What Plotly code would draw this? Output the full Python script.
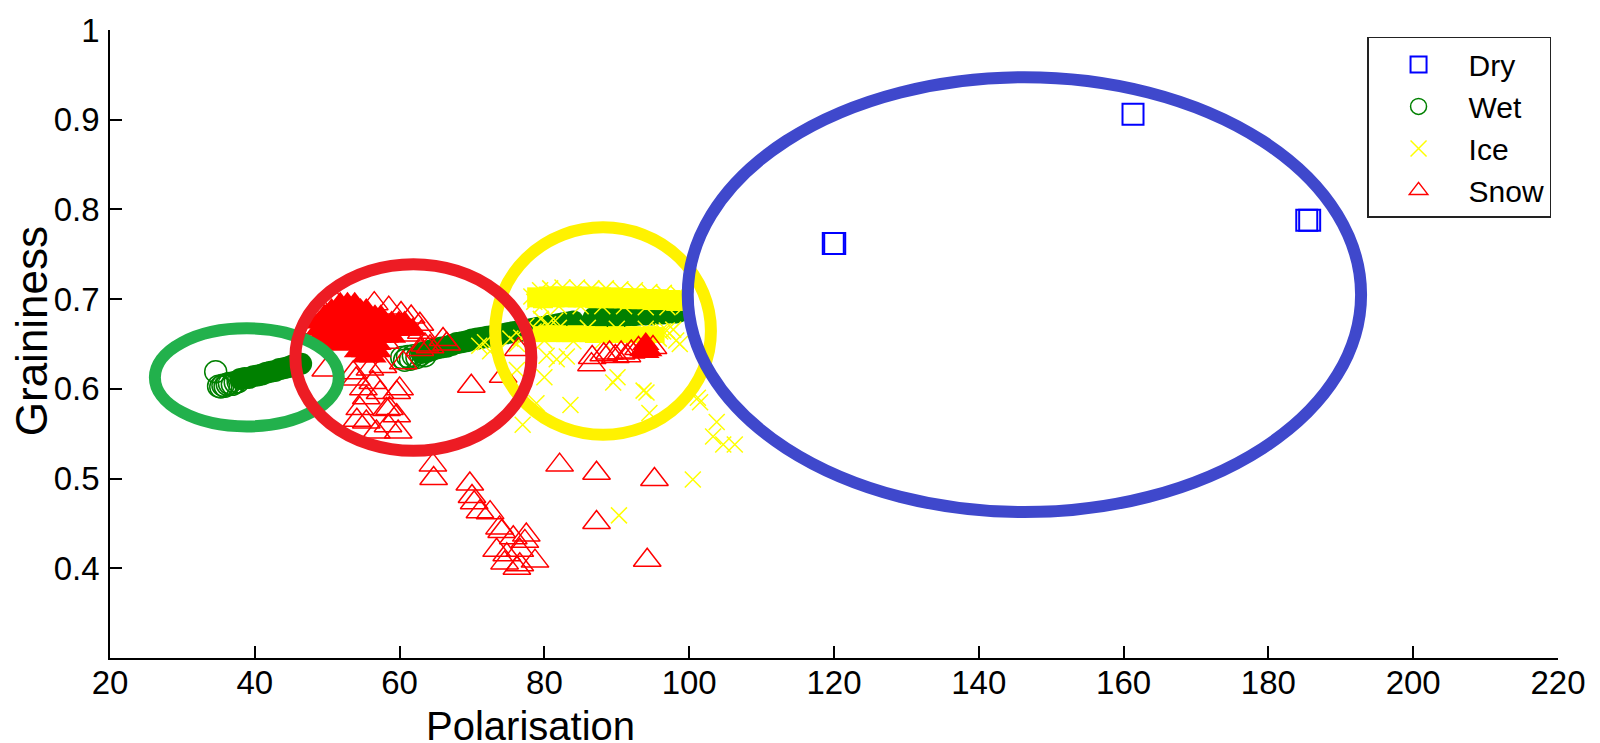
import plotly.graph_objects as go

# ---------------- data ----------------
dry_x = [119.9, 120.1, 161.3, 185.3, 185.7]
dry_y = [0.762, 0.762, 0.906, 0.788, 0.788]

# distinct open circles (Wet)
wet_x = [34.6, 35.0, 35.3, 35.6, 35.9, 36.2, 36.5, 36.9, 37.3, 37.7,
         60.3, 60.7, 61.1, 61.5, 61.9, 62.4, 62.9, 63.5]
wet_y = [0.619, 0.603, 0.602, 0.604, 0.603, 0.605, 0.606, 0.605, 0.607, 0.608,
         0.635, 0.632, 0.636, 0.633, 0.637, 0.635, 0.638, 0.637]
# densely overlapping Wet points (appear solid)
wet_dense_x = [38.0, 38.6, 39.2, 39.8, 40.4, 41.0, 41.6, 42.2, 42.8, 43.4, 44.0, 44.6, 45.2, 45.8, 46.4,
               63.0, 63.7, 64.4, 65.1, 65.8, 66.5, 67.2, 67.9, 68.6, 69.3, 70.0, 70.7, 71.4, 72.1, 72.8,
               73.5, 74.2, 74.9, 75.6, 76.3, 77.0, 77.7, 78.4, 79.1, 79.8, 80.5, 81.2, 81.9, 82.6, 83.3, 84.0,
               86.8, 87.6, 88.4, 89.2, 90.0, 90.8, 91.6, 92.4, 93.2, 94.0, 94.8, 95.6, 96.4, 97.2, 98.0, 98.5]
wet_dense_y = [0.611, 0.612, 0.612, 0.614, 0.615, 0.616, 0.618, 0.619, 0.620, 0.622, 0.623, 0.624, 0.626, 0.627, 0.628,
               0.640, 0.641, 0.643, 0.645, 0.646, 0.647, 0.649, 0.651, 0.652, 0.653, 0.655, 0.656, 0.657, 0.658, 0.659,
               0.660, 0.661, 0.662, 0.663, 0.664, 0.665, 0.666, 0.667, 0.668, 0.669, 0.670, 0.671, 0.672, 0.673, 0.674, 0.675,
               0.679, 0.679, 0.680, 0.680, 0.681, 0.681, 0.682, 0.682, 0.683, 0.683, 0.683, 0.684, 0.684, 0.685, 0.685, 0.686]

# distinct crosses (Ice)
ice_x = [78.2, 78.6, 79.4, 80.8, 82.5, 84.5, 86.5, 88.5, 90.5, 92.5, 94.5, 96.5, 98.5, 99.5, 99.3,
         97.0, 94.0, 91.0, 88.0, 85.0, 82.0, 79.6,
         79.0, 80.0, 82.0, 84.0, 86.0, 88.0, 90.0, 92.0, 94.0, 95.8, 96.0,
         71.0, 71.8, 72.5, 75.3, 76.2, 76.8, 77.5, 78.5, 79.5, 80.5, 81.5,
         76.2, 77.0, 78.9, 80.0, 80.3, 81.7, 83.1, 83.6, 89.5, 90.1, 93.7, 94.1, 94.5,
         96.4, 96.9, 97.8, 98.2, 98.7, 101.5, 101.2, 103.8, 103.3, 104.7, 106.3, 100.5, 90.3]
ice_y = [0.703, 0.697, 0.710, 0.712, 0.713, 0.713, 0.712, 0.712, 0.711, 0.710, 0.708, 0.707, 0.706, 0.700, 0.692,
         0.691, 0.691, 0.692, 0.692, 0.692, 0.692, 0.693,
         0.665, 0.654, 0.668, 0.653, 0.668, 0.653, 0.667, 0.653, 0.667, 0.656, 0.664,
         0.648, 0.652, 0.642, 0.656, 0.650, 0.657, 0.670, 0.664, 0.678, 0.672, 0.676,
         0.621, 0.560, 0.584, 0.613, 0.637, 0.633, 0.636, 0.582, 0.607, 0.613, 0.598, 0.596, 0.573,
         0.664, 0.665, 0.666, 0.654, 0.650, 0.585, 0.590, 0.563, 0.547, 0.538, 0.538, 0.499, 0.459]
# densely overlapping Ice points: upper and lower streaks
ice_up_x = [79.0, 79.8, 80.6, 81.4, 82.2, 83.0, 83.8, 84.6, 85.4, 86.2, 87.0, 87.8, 88.6,
            89.4, 90.2, 91.0, 91.8, 92.6, 93.4, 94.2, 95.0, 95.8, 96.6, 97.4, 98.2, 99.0]
ice_up_y = [0.702, 0.701, 0.703, 0.702, 0.703, 0.702, 0.703, 0.702, 0.702, 0.703, 0.701, 0.702, 0.701,
            0.702, 0.701, 0.701, 0.700, 0.701, 0.700, 0.700, 0.699, 0.700, 0.699, 0.699, 0.698, 0.698]
ice_lo_x = [79.5, 80.3, 81.1, 81.9, 82.7, 83.5, 84.3, 85.1, 85.9, 86.7, 87.5, 88.3, 89.1,
            89.9, 90.7, 91.5, 92.3, 93.1, 93.9, 94.7, 95.5]
ice_lo_y = [0.661, 0.662, 0.661, 0.662, 0.661, 0.661, 0.662, 0.661, 0.661, 0.660, 0.661, 0.660, 0.660,
            0.661, 0.660, 0.660, 0.661, 0.660, 0.660, 0.661, 0.660]

# distinct triangles (Snow)
snow_x = [49.8, 53.6, 54.0, 55.0, 56.3, 55.9, 57.7, 60.5, 59.6, 54.5, 55.4, 56.8, 58.6, 59.6, 59.8,
          55.4, 54.1, 58.4, 57.3, 62.8, 64.2, 63.5, 66.0, 66.5, 69.9, 60.0, 58.2,
          48.3, 49.2, 50.8, 56.5, 58.5, 60.2, 61.6, 62.8, 63.0, 52.0, 50.5, 58.0, 61.5,
          64.6, 64.7, 69.7, 70.0, 70.3, 71.1, 72.5, 73.8, 74.1, 75.7, 77.5, 73.4, 74.8, 76.6,
          74.5, 76.2, 76.6, 78.7, 77.3,
          82.1, 87.2, 95.2, 87.2, 94.2,
          74.3, 76.4, 86.6, 86.5, 88.2, 89.0, 89.8, 90.6, 91.4, 92.0, 93.0, 95.0]
snow_y = [0.621, 0.618, 0.611, 0.600, 0.607, 0.622, 0.625, 0.629, 0.596, 0.578, 0.563, 0.552, 0.578, 0.570, 0.552,
          0.590, 0.565, 0.559, 0.596, 0.644, 0.647, 0.649, 0.655, 0.650, 0.603, 0.600, 0.577,
          0.668, 0.689, 0.700, 0.695, 0.690, 0.684, 0.680, 0.672, 0.663, 0.650, 0.655, 0.652, 0.660,
          0.515, 0.500, 0.494, 0.480, 0.473, 0.463, 0.462, 0.445, 0.441, 0.434, 0.437, 0.420, 0.415, 0.420,
          0.406, 0.400, 0.404, 0.408, 0.430,
          0.515, 0.506, 0.499, 0.451, 0.409,
          0.614, 0.644, 0.635, 0.627, 0.638, 0.640, 0.636, 0.640, 0.637, 0.641, 0.645, 0.646]
# densely overlapping Snow points
snow_dense_x = [51.8, 52.8, 53.8,
                50.6, 51.6, 52.6, 53.6, 54.6, 55.4,
                49.6, 50.6, 51.6, 52.6, 53.6, 54.6, 55.6, 56.6, 57.4,
                48.9, 49.9, 50.9, 51.9, 52.9, 53.9, 54.9, 55.9, 56.9, 57.9, 58.9, 59.9, 60.7,
                48.8, 49.8, 50.8, 51.8, 52.8, 53.8, 54.8, 55.8, 56.8, 57.8, 58.8, 59.8, 60.8, 61.8,
                49.0, 50.0, 51.0, 52.0, 53.0, 54.0, 55.0, 56.0, 57.0, 58.0, 59.0,
                50.0, 51.0, 52.0, 53.0, 54.0, 55.0, 56.0, 57.0,
                54.2, 55.2, 56.2, 57.0,
                55.3, 56.3,
                94.0, 94.0, 94.0, 93.6, 94.4]
snow_dense_y = [0.695, 0.695, 0.695,
                0.688, 0.688, 0.688, 0.688, 0.688, 0.688,
                0.681, 0.681, 0.681, 0.681, 0.681, 0.681, 0.681, 0.681, 0.681,
                0.674, 0.674, 0.674, 0.674, 0.674, 0.674, 0.674, 0.674, 0.674, 0.674, 0.674, 0.674, 0.674,
                0.666, 0.666, 0.666, 0.666, 0.666, 0.666, 0.666, 0.666, 0.666, 0.666, 0.666, 0.666, 0.666, 0.666,
                0.658, 0.658, 0.658, 0.658, 0.658, 0.658, 0.658, 0.658, 0.658, 0.658, 0.658,
                0.650, 0.650, 0.650, 0.650, 0.650, 0.650, 0.650, 0.650,
                0.642, 0.642, 0.642, 0.642,
                0.636, 0.636,
                0.641, 0.646, 0.650, 0.643, 0.643]

# class ellipses: Wet, Ice, Snow, Dry
ell_cx = [38.9, 88.1, 61.9, 146.3]
ell_cy = [0.6128, 0.6644, 0.635, 0.705]
ell_ax = [12.7, 14.9, 16.3, 46.5]
ell_ay = [0.0547, 0.1156, 0.104, 0.2424]

x_ticks = [20, 40, 60, 80, 100, 120, 140, 160, 180, 200, 220]
y_ticks = [0.4, 0.5, 0.6, 0.7, 0.8, 0.9, 1.0]
y_ticktext = ["0.4", "0.5", "0.6", "0.7", "0.8", "0.9", "1"]

# ---------------- styles ----------------
FONT = "Liberation Sans, Arial, Helvetica, sans-serif"
BLUE = "rgb(0,0,255)"
GREEN = "rgb(0,128,0)"
YELLOW = "rgb(255,255,0)"
RED = "rgb(255,0,0)"
ell_colors = ["rgb(34,177,76)", "rgb(255,242,0)", "rgb(237,28,36)", "rgb(63,72,204)"]

fig = go.Figure()

fig.add_trace(go.Scatter(x=dry_x, y=dry_y, mode="markers", name="Dry",
                         marker=dict(symbol="square-open", size=21, color=BLUE,
                                     line=dict(width=2, color=BLUE))))
fig.add_trace(go.Scatter(x=wet_dense_x, y=wet_dense_y, mode="markers", showlegend=False,
                         hoverinfo="skip",
                         marker=dict(symbol="circle", size=22, color=GREEN,
                                     line=dict(width=0))))
fig.add_trace(go.Scatter(x=wet_x, y=wet_y, mode="markers", name="Wet",
                         marker=dict(symbol="circle-open", size=22, color=GREEN,
                                     line=dict(width=1.5, color=GREEN))))
fig.add_trace(go.Scatter(x=ice_up_x, y=ice_up_y, mode="markers", showlegend=False,
                         hoverinfo="skip",
                         marker=dict(symbol="square", size=20, color=YELLOW, line=dict(width=0))))
fig.add_trace(go.Scatter(x=ice_lo_x, y=ice_lo_y, mode="markers", showlegend=False,
                         hoverinfo="skip",
                         marker=dict(symbol="square", size=16, color=YELLOW, line=dict(width=0))))
fig.add_trace(go.Scatter(x=ice_x, y=ice_y, mode="markers", name="Ice",
                         marker=dict(symbol="x-thin-open", size=16, color=YELLOW,
                                     line=dict(width=1.5, color=YELLOW))))
fig.add_trace(go.Scatter(x=snow_dense_x, y=snow_dense_y, mode="markers", showlegend=False,
                         hoverinfo="skip",
                         marker=dict(symbol="triangle-up", size=24, color=RED, line=dict(width=0))))
fig.add_trace(go.Scatter(x=snow_x, y=snow_y, mode="markers", name="Snow",
                         marker=dict(symbol="triangle-up-open", size=24, color=RED,
                                     line=dict(width=1.5, color=RED))))

shapes = []
for cx, cy, ax, ay, col in zip(ell_cx, ell_cy, ell_ax, ell_ay, ell_colors):
    shapes.append(dict(type="circle", xref="x", yref="y",
                       x0=cx - ax, x1=cx + ax, y0=cy - ay, y1=cy + ay,
                       line=dict(color=col, width=12), layer="above"))

fig.update_layout(
    width=1600, height=743,
    margin=dict(l=110, r=42, t=22, b=85),
    paper_bgcolor="white", plot_bgcolor="white",
    font=dict(family=FONT, color="black", size=33),
    shapes=shapes,
    showlegend=True,
    legend=dict(x=0.9952, xanchor="right", y=0.989, yanchor="top",
                bgcolor="white", bordercolor="#222222", borderwidth=1.5,
                font=dict(family=FONT, size=30, color="black"),
                itemwidth=90, tracegroupgap=0),
    xaxis=dict(range=[20, 220], tickvals=x_ticks, ticks="inside", ticklen=12,
               tickwidth=1.5, tickcolor="black", showline=True, linecolor="black",
               linewidth=1.5, showgrid=False, zeroline=False,
               tickfont=dict(family=FONT, size=33, color="black"), ticklabelstandoff=-5),
    yaxis=dict(range=[0.3, 1.0], tickvals=y_ticks, ticktext=y_ticktext, ticks="inside",
               ticklen=12, tickwidth=1.5, tickcolor="black", showline=True,
               linecolor="black", linewidth=1.5, showgrid=False, zeroline=False,
               tickfont=dict(family=FONT, size=33, color="black"), ticklabelstandoff=2),
    annotations=[
        dict(text="Polarisation", xref="paper", yref="paper", x=0.2907, y=-0.146,
             xanchor="center", yanchor="bottom", showarrow=False,
             font=dict(family=FONT, size=40, color="black")),
        dict(text="Graininess", xref="paper", yref="paper", x=-0.054, y=0.52,
             xanchor="center", yanchor="middle", textangle=-90, showarrow=False,
             font=dict(family=FONT, size=44, color="black")),
    ],
)

fig.write_html("out.html", config={"displayModeBar": False},
               post_script="document.body.style.margin='0';")
